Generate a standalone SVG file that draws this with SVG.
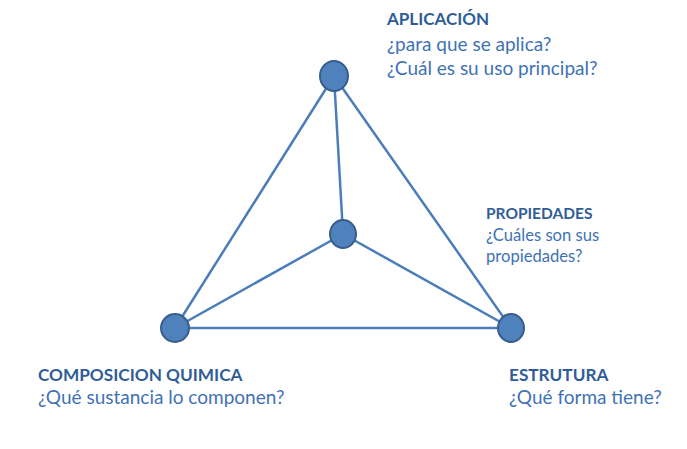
<svg xmlns="http://www.w3.org/2000/svg" width="687" height="449" viewBox="0 0 687 449">
<style>
.edge{stroke:#4a7ebb;stroke-width:2.5;fill:none}
.node{fill:#4f81bd;stroke:#385d8a;stroke-width:2}
.t{font-family:Lato,"Open Sans","Liberation Sans",sans-serif;font-weight:bold;fill:#2f5d97}
.s{font-family:Lato,"Open Sans","Liberation Sans",sans-serif;fill:#3f72b5}
</style>
<rect width="687" height="449" fill="#ffffff"/>
<g id="connectors">
<line class="edge" x1="334" y1="76" x2="175" y2="328"/>
<line class="edge" x1="334" y1="76" x2="511" y2="328"/>
<line class="edge" x1="334" y1="76" x2="343" y2="234"/>
<line class="edge" x1="343" y1="234" x2="175" y2="328"/>
<line class="edge" x1="343" y1="234" x2="511" y2="328"/>
<line class="edge" x1="175" y1="328" x2="511" y2="328"/>
</g>
<g id="aplicacion">
<ellipse class="node" cx="334" cy="76" rx="14" ry="15"/>
<text class="t" x="387" y="25" font-size="17">APLICACIÓN</text>
<text class="s" x="387" y="51" font-size="19">¿para que se aplica?</text>
<text class="s" x="387" y="75" font-size="19">¿Cuál es su uso principal?</text>
</g>
<g id="propiedades">
<ellipse class="node" cx="343" cy="234" rx="13" ry="14"/>
<text class="t" x="486" y="219" font-size="15.5">PROPIEDADES</text>
<text class="s" x="486" y="241" font-size="16.6">¿Cuáles son sus</text>
<text class="s" x="486" y="262" font-size="16.6">propiedades?</text>
</g>
<g id="composicion">
<ellipse class="node" cx="175" cy="328" rx="14" ry="14"/>
<text class="t" x="38" y="381" font-size="17.2">COMPOSICION QUIMICA</text>
<text class="s" x="38" y="404" font-size="19">¿Qué sustancia lo componen?</text>
</g>
<g id="estrutura">
<ellipse class="node" cx="511" cy="328" rx="13" ry="14"/>
<text class="t" x="509" y="381" font-size="17.2">ESTRUTURA</text>
<text class="s" x="509" y="404" font-size="19">¿Qué forma tiene?</text>
</g>
</svg>
